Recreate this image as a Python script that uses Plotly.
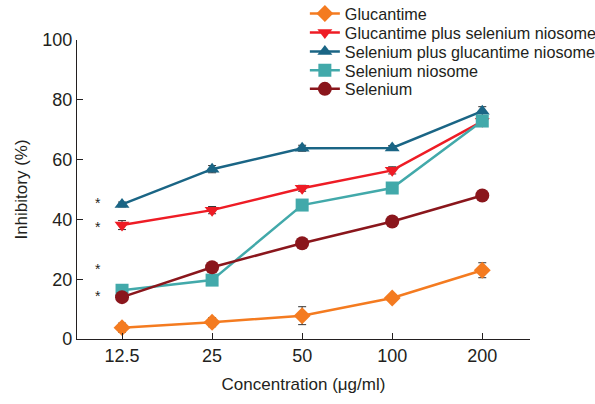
import plotly.graph_objects as go

concentrations = ["12.5", "25", "50", "100", "200"]

glucantime = [3.8, 5.6, 7.8, 13.7, 23.0]
glucantime_err = [1.5, 1.5, 3.0, 1.0, 2.5]

gluc_plus_se_nio = [38.1, 43.1, 50.4, 56.4, 72.8]
gluc_plus_se_nio_err = [1.5, 1.2, 1.0, 1.2, 1.5]

se_plus_gluc_nio = [45.0, 56.8, 63.8, 63.9, 76.2]
se_plus_gluc_nio_err = [0.8, 1.2, 1.0, 0.8, 1.5]

se_niosome = [16.3, 19.7, 44.8, 50.5, 72.9]
se_niosome_err = [0.5, 0.5, 0.5, 0.5, 0.5]

selenium = [14.0, 24.0, 32.0, 39.3, 48.0]
selenium_err = [0.5, 0.5, 0.5, 0.5, 0.5]

star_y = [45.5, 37.5, 23.5, 14.5]

series = [
    ("Glucantime", glucantime, glucantime_err, "#F47B20", "diamond", 13),
    ("Glucantime plus selenium niosome", gluc_plus_se_nio, gluc_plus_se_nio_err, "#EE1C25", "triangle-down", 13),
    ("Selenium plus glucantime niosome", se_plus_gluc_nio, se_plus_gluc_nio_err, "#1A6585", "triangle-up", 13),
    ("Selenium niosome", se_niosome, se_niosome_err, "#42A9AA", "square", 13),
    ("Selenium", selenium, selenium_err, "#8A161C", "circle", 14),
]

# plot area in pixels: top 40, bottom 339 -> height 299
legend_centers_px = [14, 33, 52, 70.7, 89.3]
PLOT_TOP, PLOT_H = 40, 299

fig = go.Figure()
legend_layouts = {}
for i, (name, vals, errs, color, sym, size) in enumerate(series):
    lname = "legend" if i == 0 else f"legend{i + 1}"
    fig.add_trace(go.Scatter(
        x=concentrations, y=vals, name=name, mode="lines+markers",
        line=dict(color=color, width=2.5),
        marker=dict(symbol=sym, size=size, color=color),
        error_y=dict(type="data", array=errs, visible=True, color="#333333", thickness=1, width=4),
        legend=lname, showlegend=True,
    ))
    yc = (PLOT_TOP + PLOT_H - legend_centers_px[i]) / PLOT_H
    legend_layouts[lname] = dict(
        x=0.503, y=yc, xanchor="left", yanchor="middle", bgcolor="rgba(0,0,0,0)",
        font=dict(size=16.2, color="#231F20", family="Liberation Sans, Arial, sans-serif"),
        itemwidth=30,
    )

for sy in star_y:
    fig.add_annotation(x=-0.27, y=sy, xref="x", yref="y", text="*", showarrow=False,
                       font=dict(size=14, color="#231F20"))

fig.update_layout(
    width=595, height=404,
    margin=dict(l=77, r=65, t=40, b=65, autoexpand=False),
    paper_bgcolor="white", plot_bgcolor="white",
    font=dict(family="Liberation Sans, Arial, sans-serif", size=17, color="#231F20"),
    showlegend=True,
    xaxis=dict(type="category", range=[-0.5, 4.53], showline=True, linecolor="#231F20", linewidth=1.2,
               ticks="inside", ticklen=6, tickcolor="#231F20", showgrid=False, zeroline=False,
               tickfont=dict(size=18),
               title=dict(text="Concentration (μg/ml)", standoff=13, font=dict(size=17))),
    yaxis=dict(range=[0, 100], tickvals=[0, 20, 40, 60, 80, 100], showline=True, linecolor="#231F20",
               linewidth=1.2, ticks="inside", ticklen=6, tickcolor="#231F20", showgrid=False, zeroline=False,
               tickfont=dict(size=18),
               title=dict(text="Inhibitory (%)", standoff=10, font=dict(size=17))),
    **legend_layouts,
)

fig.write_html("out.html", config={"displayModeBar": False},
               post_script="document.body.style.margin='0';document.body.style.overflow='hidden';")
